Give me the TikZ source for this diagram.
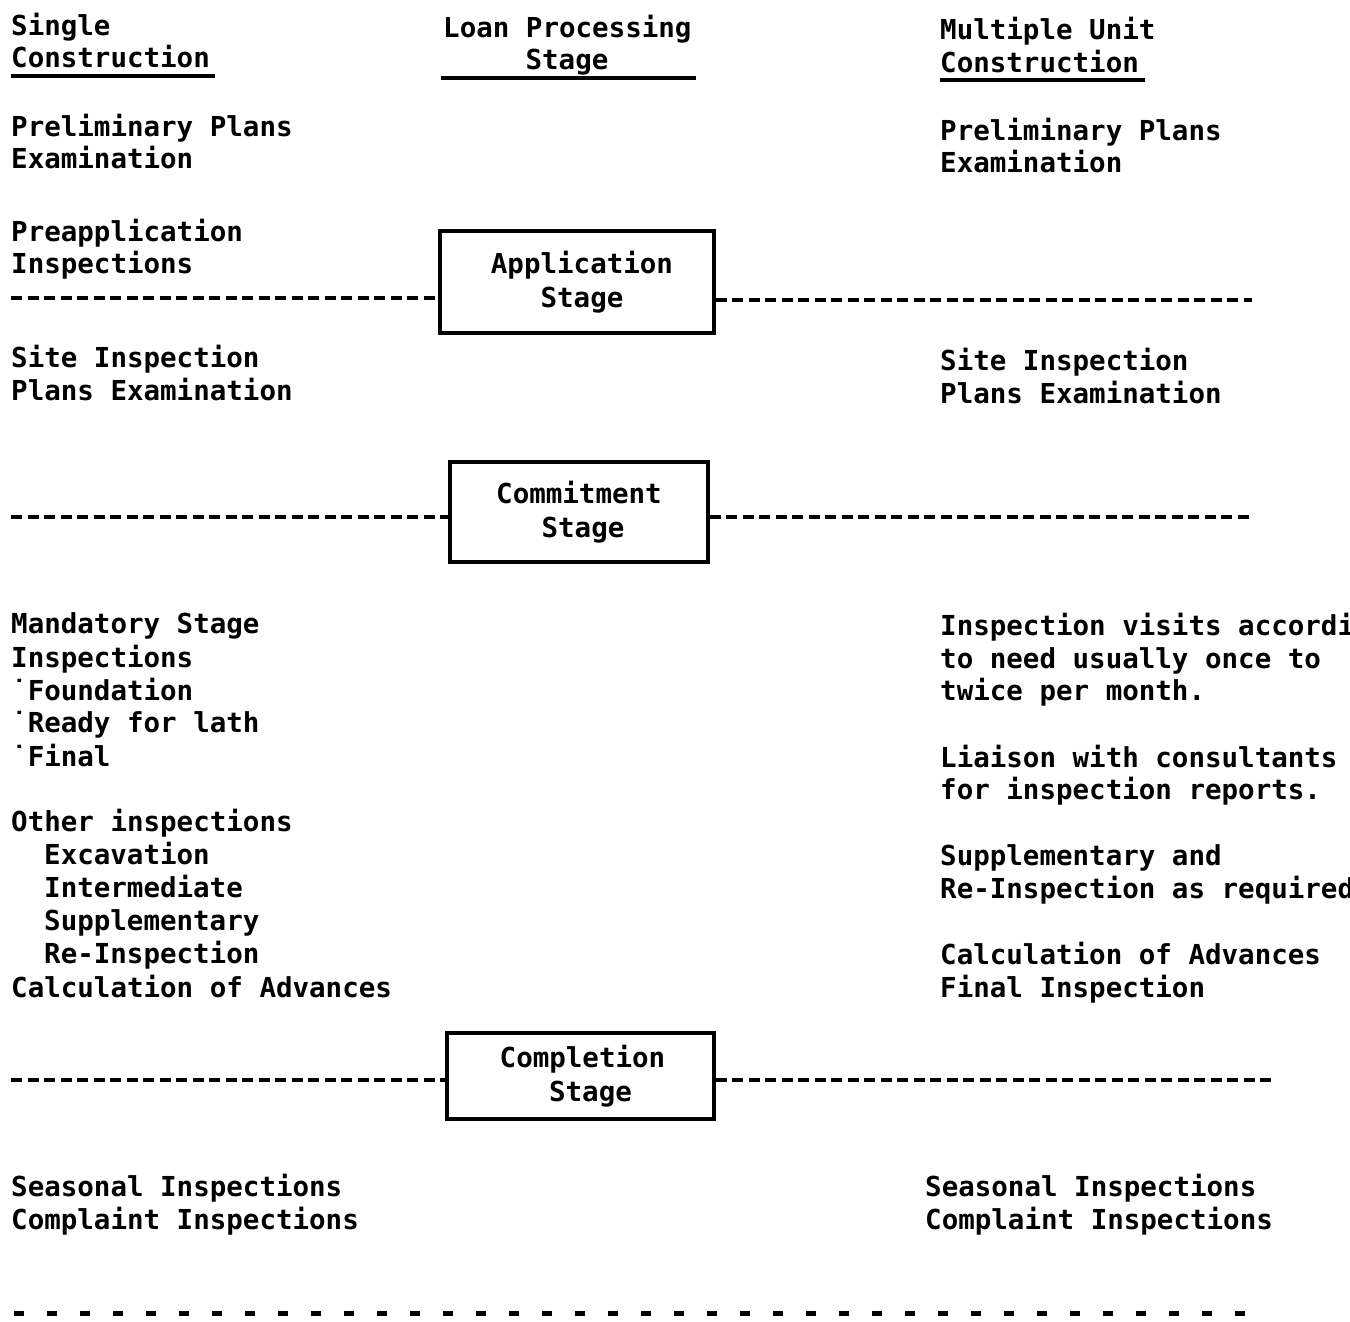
\documentclass[tikz,border=0pt]{standalone}
\usepackage{fontspec}
\newfontfamily\tw{DejaVu Sans Mono}[BoldFont={DejaVu Sans Mono Bold}]
\begin{document}
\begin{tikzpicture}[x=1pt,y=-1pt,
  txt/.style={anchor=base west,inner sep=0pt,font=\tw\bfseries\fontsize{27.5}{33}\selectfont},
  ctxt/.style={anchor=base,inner sep=0pt,font=\tw\bfseries\fontsize{27.5}{33}\selectfont},
  stagebox/.style={draw,line width=3.5pt,inner sep=0pt,align=center,font=\tw\bfseries\fontsize{27.5}{34}\selectfont},
  tdash/.style={line width=3.5pt,dash pattern=on 11pt off 5.5pt},
  sdash/.style={line width=5pt,dash pattern=on 10pt off 23pt},
  uline/.style={line width=3.5pt}]
\clip (0,0) rectangle (1350,1322);
\fill[white] (0,0) rectangle (1350,1322);

% headers
\node[txt] (h1a) at (11,36) {Single};
\node[txt] (h1b) at (11,68) {Construction};
\coordinate (u1a) at (11,76); \coordinate (u1b) at (215,76);
\draw[uline] (u1a) -- (u1b);
\node[txt] (h2a) at (443,38) {Loan Processing};
\node[ctxt] (h2b) at (567,70) {Stage};
\coordinate (u2a) at (441,78); \coordinate (u2b) at (696,78);
\draw[uline] (u2a) -- (u2b);
\node[txt] (h3a) at (940,40) {Multiple Unit};
\node[txt] (h3b) at (940,73) {Construction};
\coordinate (u3a) at (940,80); \coordinate (u3b) at (1145,80);
\draw[uline] (u3a) -- (u3b);

% left column
\node[txt] (l1) at (11,136) {Preliminary Plans};
\node[txt] (l2) at (11,168) {Examination};
\node[txt] (l3) at (11,241) {Preapplication};
\node[txt] (l4) at (11,273) {Inspections};
\node[txt] (l5) at (11,367) {Site Inspection};
\node[txt] (l6) at (11,400) {Plans Examination};
\node[txt] (l7) at (11,633) {Mandatory Stage};
\node[txt] (l8) at (11,667) {Inspections};
\node[txt] (l9) at (11,700) {˙Foundation};
\node[txt] (l10) at (11,732) {˙Ready for lath};
\node[txt] (l11) at (11,766) {˙Final};
\node[txt] (l12) at (11,831) {Other inspections};
\node[txt] (l13) at (44,864) {Excavation};
\node[txt] (l14) at (44,897) {Intermediate};
\node[txt] (l15) at (44,930) {Supplementary};
\node[txt] (l16) at (44,963) {Re-Inspection};
\node[txt] (l17) at (11,997) {Calculation of Advances};
\node[txt] (l18) at (11,1196) {Seasonal Inspections};
\node[txt] (l19) at (11,1229) {Complaint Inspections};

% right column
\node[txt] (r1) at (940,140) {Preliminary Plans};
\node[txt] (r2) at (940,172) {Examination};
\node[txt] (r3) at (940,370) {Site Inspection};
\node[txt] (r4) at (940,403) {Plans Examination};
\node[txt] (r5) at (940,635) {Inspection visits according};
\node[txt] (r6) at (940,668) {to need usually once to};
\node[txt] (r7) at (940,700) {twice per month.};
\node[txt] (r8) at (940,767) {Liaison with consultants};
\node[txt] (r9) at (940,799) {for inspection reports.};
\node[txt] (r10) at (940,865) {Supplementary and};
\node[txt] (r11) at (940,898) {Re-Inspection as required};
\node[txt] (r12) at (940,964) {Calculation of Advances};
\node[txt] (r13) at (940,997) {Final Inspection};
\node[txt] (r14) at (925,1196) {Seasonal Inspections};
\node[txt] (r15) at (925,1229) {Complaint Inspections};

% stage boxes
\node[stagebox,minimum width=274pt,minimum height=102pt] (app) at (577,282) {\hspace{10pt}Application\\\hspace{10pt}Stage};
\node[stagebox,minimum width=258pt,minimum height=100pt] (com) at (579,512) {Commitment\\\hspace{8pt}Stage};
\node[stagebox,minimum width=267pt,minimum height=86pt] (cpl) at (580.5,1076) {\hspace{4pt}Completion\\\hspace{20pt}Stage};

% dashed separators
\coordinate (d1l) at (11,298); \coordinate (d1r) at (1252,300);
\draw[tdash] (d1l) -- (d1l -| app.west);
\draw[tdash] (app.east |- d1r) -- (d1r);
\coordinate (d2l) at (11,517); \coordinate (d2r) at (1252,517);
\draw[tdash] (d2l) -- (d2l -| com.west);
\draw[tdash] (com.east |- d2r) -- (d2r);
\coordinate (d3l) at (11,1080); \coordinate (d3r) at (1272,1080);
\draw[tdash] (d3l) -- (d3l -| cpl.west);
\draw[tdash] (cpl.east |- d3r) -- (d3r);
\coordinate (d4l) at (14,1313); \coordinate (d4r) at (1245,1313);
\draw[sdash] (d4l) -- (d4r);
\end{tikzpicture}
\end{document}
